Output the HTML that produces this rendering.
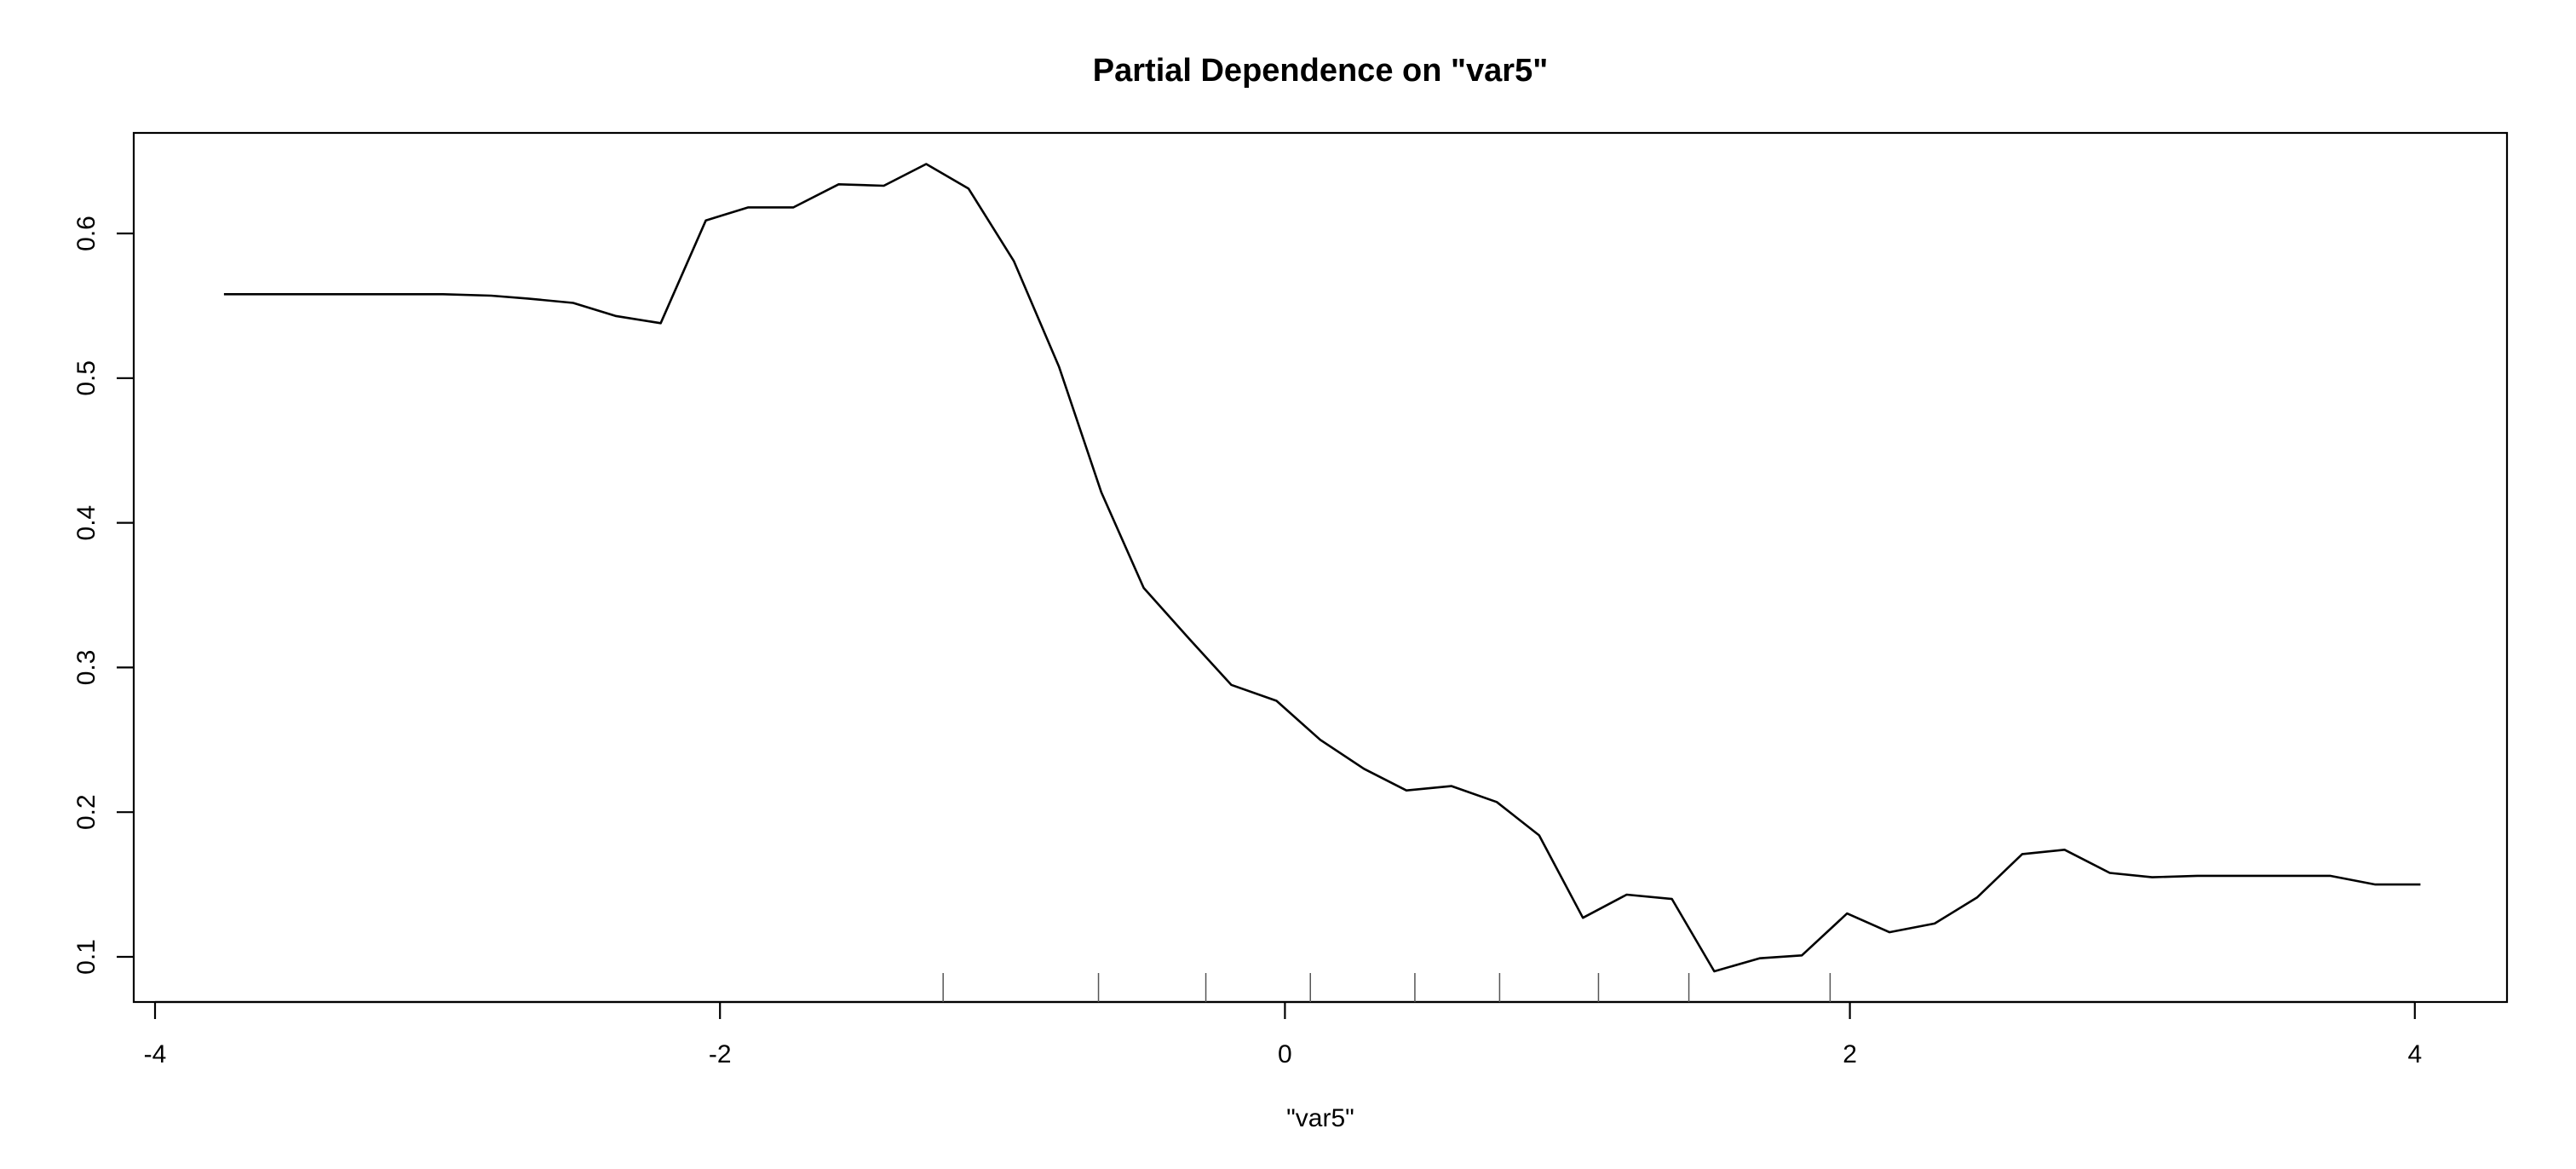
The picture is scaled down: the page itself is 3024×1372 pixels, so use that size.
<!DOCTYPE html>
<html><head><meta charset="utf-8"><style>
html,body{margin:0;padding:0;background:#fff;}
svg{display:block;font-family:"Liberation Sans",Arial,sans-serif;}
</style></head><body>
<svg id="chart" width="3024" height="1372" viewBox="0 0 3024 1372">
<text x="1550" y="95" text-anchor="middle" font-size="38" font-weight="bold">Partial Dependence on "var5"</text>
<rect x="157" y="156" width="2786" height="1020" fill="none" stroke="#000" stroke-width="2.2"/>
<g id="xaxis"></g>
<g id="yaxis"></g>
<g id="rug"></g>
<path id="line" fill="none" stroke="#000" stroke-width="2.6" stroke-linejoin="round"/>
<text x="1550" y="1322" text-anchor="middle" font-size="30">"var5"</text>
</svg>
<script>
const xValues=[-3.756,-2.98,-2.81,-2.68,-2.52,-2.37,-2.21,-2.05,-1.90,-1.74,-1.58,-1.42,-1.27,-1.12,-0.96,-0.80,-0.65,-0.50,-0.34,-0.19,-0.03,0.125,0.28,0.43,0.59,0.75,0.90,1.055,1.21,1.37,1.52,1.68,1.83,1.99,2.14,2.30,2.45,2.61,2.76,2.92,3.07,3.23,3.70,3.86,4.02];
const yValues=[0.558,0.558,0.557,0.555,0.552,0.543,0.538,0.609,0.618,0.618,0.634,0.633,0.648,0.631,0.581,0.508,0.421,0.355,0.320,0.288,0.277,0.250,0.230,0.215,0.218,0.207,0.184,0.127,0.143,0.140,0.090,0.099,0.101,0.130,0.117,0.123,0.141,0.171,0.174,0.158,0.155,0.156,0.156,0.150,0.150];
const rugValues=[-1.21,-0.66,-0.28,0.09,0.46,0.76,1.11,1.43,1.93];
const xTicks=[-4,-2,0,2,4];
const yTicks=[0.1,0.2,0.3,0.4,0.5,0.6];
const yTickLabels=["0.1","0.2","0.3","0.4","0.5","0.6"];
function sx(v){return 182+(v+4)*331.6;}
function sy(v){return 1123-(v-0.1)*1698;}
const NS="http://www.w3.org/2000/svg";
function mk(t,a,p){const e=document.createElementNS(NS,t);for(const k in a)e.setAttribute(k,a[k]);p.appendChild(e);return e;}
const line=document.getElementById('line');
line.setAttribute('d',xValues.map((x,i)=>(i?'L':'M')+sx(x).toFixed(1)+' '+sy(yValues[i]).toFixed(1)).join(' '));
const xa=document.getElementById('xaxis');
const axl=mk('line',{x1:sx(xTicks[0]),x2:sx(xTicks[xTicks.length-1]),y1:1176,y2:1176,stroke:'#000','stroke-width':2.2},xa);


xTicks.forEach(t=>{
 const l=mk('line',{x1:sx(t),x2:sx(t),y1:1176,y2:1196,stroke:'#000','stroke-width':2.2},xa);
 
 
 const tx=mk('text',{x:sx(t),y:1247,'text-anchor':'middle','font-size':30},xa);
 tx.textContent=String(t);
 
 
});
const ya=document.getElementById('yaxis');
yTicks.forEach((t,i)=>{
 const l=mk('line',{x1:137,x2:157,y1:sy(t),y2:sy(t),stroke:'#000','stroke-width':2.2},ya);
 
 
 const tx=mk('text',{x:0,y:0,'text-anchor':'middle','font-size':30,transform:'translate(111,'+sy(t)+') rotate(-90)'},ya);
 tx.textContent=yTickLabels[i];
 
 
});
const rug=document.getElementById('rug');
rugValues.forEach(r=>{
 const l=mk('line',{x1:sx(r),x2:sx(r),y1:1176,y2:1142,stroke:'#555','stroke-width':1.5},rug);
 
 
});
</script>
</body></html>
